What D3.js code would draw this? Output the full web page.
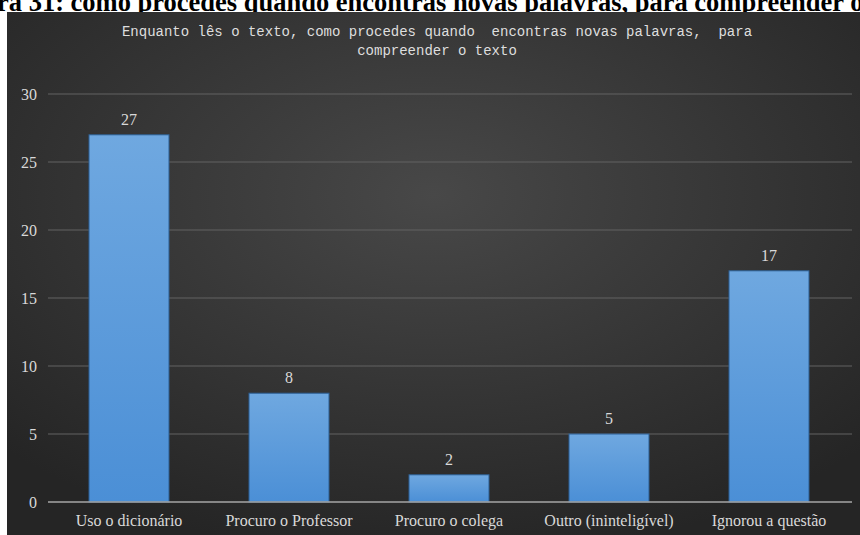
<!DOCTYPE html>
<html>
<head>
<meta charset="utf-8">
<script src="https://cdn.jsdelivr.net/npm/d3@7"></script>
<style>
  body { margin: 0; background: #fff; }
  svg { display: block; }
</style>
</head>
<body>
<div id="chart"></div>
<script>
// ----- Chart data
const categories = ["Uso o dicionário", "Procuro o Professor", "Procuro o colega", "Outro (ininteligível)", "Ignorou a questão"];
const values = [27, 8, 2, 5, 17];
const yTicks = [0, 5, 10, 15, 20, 25, 30];
const titleLines = [
  "Enquanto lês o texto, como procedes quando  encontras novas palavras,  para",
  "compreender o texto"
];
const captionText = "ra 31: como procedes quando encontras novas palavras, para compreender o";

const width = 860, height = 535;

const svg = d3.select("#chart")
  .append("svg")
  .attr("width", width)
  .attr("height", height);

const defs = svg.append("defs");

// dark background gradient
const bg = defs.append("radialGradient")
  .attr("id", "bgGrad")
  .attr("cx", "50%").attr("cy", "35%").attr("r", "70%");
bg.append("stop").attr("offset", "0%").attr("stop-color", "#484848");
bg.append("stop").attr("offset", "100%").attr("stop-color", "#252525");

// bar gradient
const barGrad = defs.append("linearGradient")
  .attr("id", "barGrad")
  .attr("x1", 0).attr("y1", 0).attr("x2", 0).attr("y2", 1);
barGrad.append("stop").attr("offset", "0%").attr("stop-color", "#6fa8e0");
barGrad.append("stop").attr("offset", "100%").attr("stop-color", "#4b8fd6");

// caption of the page (cut off on both sides, as in the scan)
svg.append("text")
  .attr("x", -3)
  .attr("y", 11)
  .attr("font-family", "Liberation Serif, serif")
  .attr("font-weight", "bold")
  .attr("font-size", 26.5)
  .attr("fill", "#000")
  .text(captionText);

// chart area
svg.append("rect")
  .attr("x", 7).attr("y", 12)
  .attr("width", width - 7).attr("height", height - 12)
  .attr("fill", "url(#bgGrad)");

// ----- Scales
const x = d3.scaleBand()
  .domain(categories)
  .range([49, 849])
  .paddingInner(0.5)
  .paddingOuter(0.25);

const y = d3.scaleLinear()
  .domain([0, 30])
  .range([502, 94]);

// gridlines
svg.append("g")
  .selectAll("line")
  .data(yTicks.filter(d => d > 0))
  .join("line")
    .attr("x1", 48).attr("x2", 852)
    .attr("y1", d => y(d)).attr("y2", d => y(d))
    .attr("stroke", "#636363")
    .attr("stroke-width", 1);

// y axis labels
const yAxis = d3.axisLeft(y)
  .tickValues(yTicks)
  .tickSize(0)
  .tickPadding(0);
svg.append("g")
  .attr("transform", "translate(37,0)")
  .call(yAxis)
  .call(g => g.select(".domain").remove())
  .call(g => g.selectAll(".tick text")
    .attr("font-family", "Liberation Serif, serif")
    .attr("font-size", 16)
    .attr("fill", "#d9d9d9"));

// bars
svg.append("g")
  .selectAll("rect")
  .data(values)
  .join("rect")
    .attr("x", (d, i) => x(categories[i]))
    .attr("y", d => y(d))
    .attr("width", x.bandwidth())
    .attr("height", d => y(0) - y(d))
    .attr("fill", "url(#barGrad)")
    .attr("stroke", "#2d5f93")
    .attr("stroke-width", 1);

// baseline
svg.append("line")
  .attr("x1", 48).attr("x2", 852)
  .attr("y1", y(0)).attr("y2", y(0))
  .attr("stroke", "#a6a6a6")
  .attr("stroke-width", 1.5);

// value labels
svg.append("g")
  .selectAll("text")
  .data(values)
  .join("text")
    .attr("x", (d, i) => x(categories[i]) + x.bandwidth() / 2)
    .attr("y", d => y(d) - 10)
    .attr("text-anchor", "middle")
    .attr("font-family", "Liberation Serif, serif")
    .attr("font-size", 16)
    .attr("fill", "#d9d9d9")
    .text(d => d);

// x axis labels
const xAxis = d3.axisBottom(x).tickSize(0).tickPadding(0);
svg.append("g")
  .attr("transform", `translate(0,${y(0) + 13})`)
  .call(xAxis)
  .call(g => g.select(".domain").remove())
  .call(g => g.selectAll(".tick text")
    .attr("font-family", "Liberation Serif, serif")
    .attr("font-size", 16)
    .attr("fill", "#d9d9d9"));

// chart title
svg.append("g")
  .selectAll("text")
  .data(titleLines)
  .join("text")
    .attr("x", 437)
    .attr("y", (d, i) => 36 + i * 19)
    .attr("text-anchor", "middle")
    .attr("font-family", "Liberation Mono, monospace")
    .attr("font-size", 14)
    .attr("fill", "#dedede")
    .style("white-space", "pre")
    .text(d => d);
</script>
</body>
</html>
